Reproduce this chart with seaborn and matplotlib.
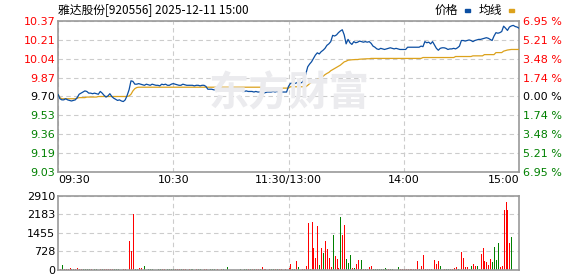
import numpy as np
import pandas as pd
import matplotlib
matplotlib.use("Agg")
import matplotlib.pyplot as plt
import seaborn as sns

sns.set_style("white")
plt.rcParams['font.family'] = ['DejaVu Sans', 'Noto Sans CJK SC']

title = "雅达股份[920556] 2025-12-11 15:00"
prev_close = 9.70
price_ticks = ["9.03", "9.19", "9.36", "9.53", "9.70", "9.87", "10.04", "10.21", "10.37"]
pct_ticks = ["6.95 %", "5.21 %", "3.48 %", "1.74 %", "0.00 %", "1.74 %", "3.48 %", "5.21 %", "6.95 %"]
vol_ticks = [0, 728, 1455, 2183, 2910]
time_labels = ["09:30", "10:30", "11:30/13:00", "14:00", "15:00"]

price = [
    9.72, 9.68, 9.67, 9.67, 9.68, 9.67, 9.665, 9.66, 9.665, 9.67,
    9.69, 9.72, 9.73, 9.74, 9.75, 9.745, 9.73, 9.73, 9.725, 9.73,
    9.725, 9.72, 9.745, 9.73, 9.71, 9.695, 9.705, 9.725, 9.70, 9.685,
    9.675, 9.665, 9.67, 9.66, 9.655, 9.67, 9.71, 9.76, 9.84, 9.835,
    9.81, 9.81, 9.815, 9.81, 9.805, 9.80, 9.81, 9.805, 9.80, 9.81,
    9.805, 9.80, 9.80, 9.795, 9.81, 9.805, 9.81, 9.80, 9.80, 9.81,
    9.815, 9.81, 9.805, 9.80, 9.80, 9.81, 9.805, 9.80, 9.80, 9.80,
    9.80, 9.795, 9.80, 9.80, 9.795, 9.80, 9.80, 9.79, 9.765, 9.765,
    9.765, 9.76, 9.76, 9.755, 9.755, 9.76, 9.76, 9.76, 9.76, 9.76,
    9.755, 9.76, 9.755, 9.75, 9.75, 9.75, 9.745, 9.745, 9.75, 9.745,
    9.745, 9.745, 9.74, 9.745, 9.74, 9.74, 9.735, 9.73, 9.735, 9.74,
    9.74, 9.74, 9.745, 9.74, 9.745, 9.74, 9.74, 9.74, 9.74, 9.74,
    9.79,
    9.817, 9.82, 9.815, 9.82, 9.83, 9.82, 9.825, 9.846, 9.90, 9.965,
    9.99, 10.01, 10.04, 10.07, 10.09, 10.08, 10.10, 10.113, 10.13, 10.157,
    10.17, 10.19, 10.246, 10.24, 10.25, 10.27, 10.285, 10.296, 10.25, 10.17,
    10.21, 10.18, 10.165, 10.19, 10.18, 10.185, 10.195, 10.19, 10.185, 10.19,
    10.185, 10.19, 10.175, 10.15, 10.14, 10.125, 10.12, 10.13, 10.125, 10.12,
    10.125, 10.13, 10.135, 10.13, 10.125, 10.13, 10.125, 10.12, 10.12, 10.12,
    10.12, 10.14, 10.14, 10.14, 10.14, 10.14, 10.14, 10.14, 10.15, 10.145,
    10.19, 10.18, 10.185, 10.17, 10.19, 10.16, 10.13, 10.113, 10.13, 10.135,
    10.135, 10.13, 10.12, 10.125, 10.125, 10.13, 10.125, 10.135, 10.15, 10.20,
    10.20, 10.195, 10.20, 10.205, 10.20, 10.19, 10.20, 10.205, 10.21, 10.21,
    10.215, 10.22, 10.225, 10.22, 10.21, 10.20, 10.24, 10.27, 10.265, 10.27,
    10.28, 10.328, 10.31, 10.29, 10.32, 10.33, 10.335, 10.325, 10.32, 10.31,
]

avg = (
    [9.72, 9.69, 9.68, 9.68, 9.68, 9.68, 9.68, 9.68, 9.68, 9.68,
     9.685, 9.69, 9.69, 9.69, 9.69, 9.695, 9.695, 9.695, 9.695, 9.695,
     9.695, 9.70, 9.70, 9.70, 9.70, 9.70, 9.70, 9.70, 9.70, 9.70,
     9.70, 9.70, 9.70, 9.70, 9.70, 9.70, 9.70, 9.705, 9.72, 9.75,
     9.77, 9.78]
    + [9.783] * 65
    + [9.775] * 14
    + [9.787] * 9
    + [9.80, 9.815, 9.83, 9.835, 9.84, 9.85, 9.86, 9.87, 9.88, 9.895,
       9.906, 9.915, 9.93, 9.94, 9.95, 9.96, 9.97, 9.98, 9.995, 10.009,
       10.015, 10.024, 10.026, 10.028, 10.029, 10.03, 10.03, 10.033, 10.034, 10.035,
       10.036, 10.037, 10.037]
    + [10.04] * 27
    + [10.048] * 17
    + [10.057] * 9
    + [10.063] * 6
    + [10.074] * 6
    + [10.092] * 4
    + [10.105, 10.11, 10.115, 10.118, 10.12, 10.12, 10.12, 10.12, 10.12]
)

volume = [
    50, 50, 200, 50, 50, 50, 80, 50, 50, 50, 70, 50, 50, 50, 50, 50, 50, 50, 0, 50,
    50, 0, 50, 50, 50, 50, 50, 50, 50, 50, 50, 50, 0, 0, 50, 50, 0, 1140, 750, 2200,
    50, 50, 80, 60, 0, 160, 0, 50, 50, 50, 0, 0, 50, 50, 50, 50, 0, 50, 50, 50,
    50, 50, 50, 50, 50, 50, 50, 0, 50, 50, 50, 0, 50, 50, 50, 0, 50, 50, 0, 50,
    50, 50, 0, 50, 0, 50, 50, 0, 120, 0, 0, 0, 0, 0, 0, 50, 0, 50, 50, 50,
    50, 50, 50, 50, 50, 50, 120, 50, 50, 0, 50, 50, 50, 50, 50, 50, 50, 0, 50, 0,
    60,
    236, 50, 50, 354, 118, 0, 50, 50, 157, 1847, 50, 1886, 865, 472, 1730, 197, 865, 668, 1140,
    825, 472, 118, 1375, 550, 432, 90, 2083, 1375, 1768, 432, 275, 590, 80, 80, 236, 393, 50, 393, 50,
    50, 50, 118, 157, 50, 50, 50, 50, 50, 50, 80, 50, 50, 50, 50, 0, 0, 118, 50, 50,
    50, 50, 50, 50, 50, 50, 50, 354, 50, 157, 590, 50, 50, 50, 50, 0, 393, 236, 354, 157,
    0, 50, 50, 50, 50, 50, 80, 118, 50, 0, 708, 472, 118, 118, 50, 157, 236, 157, 157, 50,
    629, 865, 354, 314, 197, 432, 314, 904, 393, 1061, 118, 157, 2358, 2672, 2358, 1061, 1297, 0, 0, 0,
    1690,
]

direction = (
    "rrgrrrrgrrrrrggggrgg" "grrgrrrrrggggrrrrrrr"
    "ggrrggggggggggrrrggg" "grrrgrrrrgggrgggrrgg"
    "ggrrrrgrgrrrrrrgrggr" "grgrrgrrrrrggrgrrrrr"
    "r"
    "rggrgrrrrrgrrrrgrgrr" "rrgrrrgrrgggrgrrrgrg"
    "rrrggggggggrgggggrrr" "rrrrrrrgrrrrrrrrrrgg"
    "rggrrrrgrrrrrrgrrggr" "rrrrrggggrrrrrrgrrrg"
)

n = len(price)
minutes = np.arange(n)
df = pd.DataFrame({"minute": minutes, "price": price, "avg": avg[:n]})
vdf = pd.DataFrame({"minute": minutes, "volume": volume[:n], "dir": list(direction[:n])})

BLUE = "#0b4ea2"
GOLD = "#dca21c"
RED = "#ff0000"
GREEN = "#008000"
SPINE = "#999999"
GRID = "#cccccc"

fig = plt.figure(figsize=(5.78, 2.76), dpi=100)
ax = fig.add_axes([58 / 578, 1 - 172 / 276, 461 / 578, 151 / 276])
axv = fig.add_axes([58 / 578, 1 - 270 / 276, 461 / 578, 74 / 276])

step = prev_close * 0.017375
ytick_pos = [prev_close + (i - 4) * step for i in range(9)]

# watermark
fig.text(0.5, 0.66, "东方财富", fontsize=29, color="#ebebee", fontweight="bold",
         ha="center", va="center", family=['Noto Sans CJK SC'], zorder=0, style="italic")
ax.patch.set_alpha(0)

sns.lineplot(data=df, x="minute", y="avg", ax=ax, color=GOLD, linewidth=0.9, zorder=3)
sns.lineplot(data=df, x="minute", y="price", ax=ax, color=BLUE, linewidth=0.9, zorder=4)

ax.set_xlim(0, n - 1)
ax.set_ylim(ytick_pos[0], ytick_pos[-1])
ax.set_yticks(ytick_pos)
ax.set_yticklabels(price_ticks)
ax.set_xticks([0, 60, 120, 180, 240])
ax.set_xticklabels(time_labels)
xl = ax.get_xticklabels()
xl[0].set_ha("left")
xl[-1].set_ha("right")
ax.tick_params(axis="both", length=0, labelsize=8, colors="#000000", pad=2)
for i, lab in enumerate(ax.get_yticklabels()):
    lab.set_color(RED if i > 4 else ("#000000" if i == 4 else GREEN))
ax.set_xlabel("")
ax.set_ylabel("")
ax.grid(True, linestyle=(0, (4, 3)), color=GRID, linewidth=0.8)
for s in ax.spines.values():
    s.set_color(SPINE)
    s.set_linewidth(1.2)

ax2 = ax.twinx()
ax2.set_ylim(ax.get_ylim())
ax2.set_yticks(ytick_pos)
ax2.set_yticklabels(pct_ticks[::-1])
ax2.tick_params(axis="y", length=0, labelsize=8, pad=3)
for i, lab in enumerate(ax2.get_yticklabels()):
    lab.set_color(RED if i > 4 else ("#000000" if i == 4 else GREEN))
for s in ax2.spines.values():
    s.set_visible(False)

# volume
colors = [RED if d == "r" else GREEN for d in vdf["dir"]]
axv.vlines(vdf["minute"], 0, vdf["volume"], colors=colors, linewidth=0.72, antialiased=False)
axv.set_xlim(0, n - 1)
axv.set_ylim(0, vol_ticks[-1])
axv.set_yticks(vol_ticks)
axv.set_yticklabels([str(v) for v in vol_ticks])
axv.set_xticks([60, 120, 180])
axv.set_xticklabels([])
axv.tick_params(axis="both", length=0, labelsize=8, colors="#000000", pad=2)
axv.grid(True, linestyle=(0, (4, 3)), color=GRID, linewidth=0.8)
for s in axv.spines.values():
    s.set_color(SPINE)
    s.set_linewidth(1.2)

# title and legend
fig.text(58 / 578, 1 - 10 / 276, title, fontsize=8.5, ha="left", va="center",
         family=['Noto Sans CJK SC', 'DejaVu Sans'], color="#000000")
fig.text(458 / 578, 1 - 10 / 276, "价格", fontsize=8.5, ha="right", va="center",
         family=['Noto Sans CJK SC'], color="#000000")
fig.patches.append(matplotlib.patches.Rectangle((465 / 578, 1 - 12 / 276), 5 / 578, 3 / 276,
                   transform=fig.transFigure, color=BLUE))
fig.text(502 / 578, 1 - 10 / 276, "均线", fontsize=8.5, ha="right", va="center",
         family=['Noto Sans CJK SC'], color="#000000")
fig.patches.append(matplotlib.patches.Rectangle((509 / 578, 1 - 12 / 276), 5 / 578, 3 / 276,
                   transform=fig.transFigure, color=GOLD))

fig.savefig("out.png", dpi=100)
